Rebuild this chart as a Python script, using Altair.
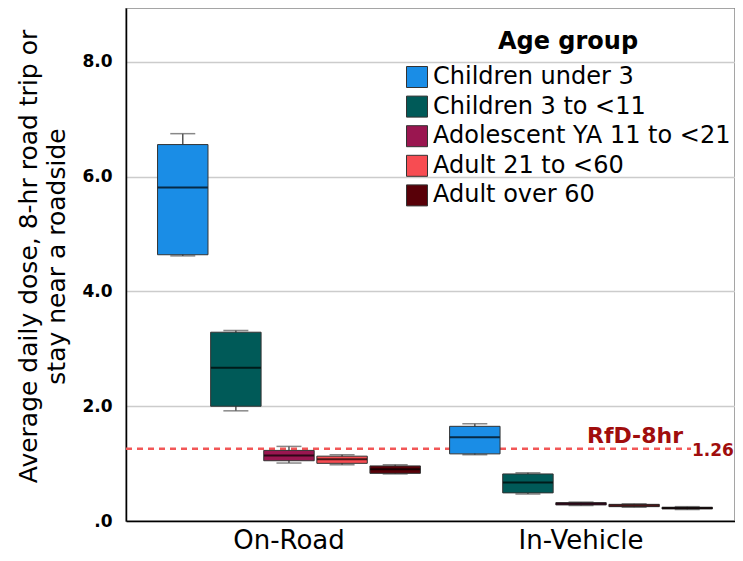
import altair as alt
import pandas as pd

contexts = ["On-Road"] * 5 + ["In-Vehicle"] * 5
groups = ["Children under 3", "Children 3 to <11", "Adolescent YA 11 to <21",
          "Adult 21 to <60", "Adult over 60"] * 2
lower = [4.62, 1.92, 1.01, 0.98, 0.82, 1.155, 0.47, 0.27, 0.24, 0.20]
q1 = [4.64, 2.00, 1.05, 1.005, 0.83, 1.17, 0.49, 0.28, 0.25, 0.21]
median = [5.81, 2.67, 1.14, 1.075, 0.90, 1.46, 0.67, 0.30, 0.27, 0.225]
q3 = [6.56, 3.29, 1.23, 1.13, 0.96, 1.65, 0.82, 0.32, 0.29, 0.24]
upper = [6.75, 3.32, 1.30, 1.155, 0.98, 1.695, 0.84, 0.33, 0.30, 0.25]

group_order = ["Children under 3", "Children 3 to <11", "Adolescent YA 11 to <21",
               "Adult 21 to <60", "Adult over 60"]
group_colors = ["#1a8de6", "#005a58", "#9a1650", "#f74c52", "#580008"]
context_order = ["On-Road", "In-Vehicle"]

rfd_value = [1.26]
rfd_label = ["RfD-8hr"]

df = pd.DataFrame({"context": contexts, "group": groups, "lower": lower, "q1": q1,
                   "median": median, "q3": q3, "upper": upper})
rfd = pd.DataFrame({"y": rfd_value, "label": rfd_label,
                    "val": [f"{v:.2f}" for v in rfd_value]})

W, H = 609, 513
ydom = [0, 8.94]
FONT = "DejaVu Sans"

x_enc = alt.X("context:N", sort=context_order,
              scale=alt.Scale(domain=context_order, range=[0, 618],
                              paddingInner=0.1, paddingOuter=0.108),
              axis=alt.Axis(title=None, labelAngle=0, ticks=False, domainColor="black",
                            domainWidth=1.5, labelFontSize=26, labelColor="black",
                            labelPadding=6, labelFont=FONT, grid=False))
xo_enc = alt.XOffset("group:N", sort=group_order,
                     scale=alt.Scale(domain=group_order, paddingInner=0.05, paddingOuter=0))

y_axis = alt.Axis(values=[0, 2, 4, 6, 8], grid=True, gridColor="#cccccc", gridWidth=1.5,
                  ticks=False, domainColor="black", domainWidth=1.5,
                  labelExpr="datum.value == 0 ? '.0' : format(datum.value, '.1f')",
                  labelFontSize=17, labelFontWeight="bold", labelColor="black",
                  labelPadding=14, labelFont=FONT,
                  title=["Average daily dose, 8-hr road trip or", "stay near a roadside"],
                  titleFontSize=25, titleFontWeight="normal", titleColor="black",
                  titleFont=FONT, titleLineHeight=28, titleAngle=270,
                  titleX=-85, titleY=248, titleAlign="center", titleBaseline="bottom")
y_scale = alt.Scale(domain=ydom, nice=False)

base = alt.Chart(df)

rule = alt.Chart(rfd).mark_rule(color="#f25757", strokeWidth=2.5, strokeDash=[6, 5]).encode(
    y=alt.Y("y:Q", scale=y_scale, axis=y_axis),
    x=alt.value(0), x2=alt.value(565))

whisker = base.mark_bar(size=1.5, color="#555555").encode(
    x=x_enc, xOffset=xo_enc,
    y=alt.Y("lower:Q", scale=y_scale, axis=y_axis), y2="upper:Q")

cap_hi = base.mark_tick(size=25, thickness=1.5, color="#555555").encode(
    x=x_enc, xOffset=xo_enc, y=alt.Y("upper:Q", scale=y_scale))
cap_lo = base.mark_tick(size=25, thickness=1.5, color="#555555").encode(
    x=x_enc, xOffset=xo_enc, y=alt.Y("lower:Q", scale=y_scale))

box = base.mark_bar(stroke="#333333", strokeWidth=1, opacity=1).encode(
    x=x_enc, xOffset=xo_enc,
    y=alt.Y("q1:Q", scale=y_scale), y2="q3:Q",
    color=alt.Color("group:N", sort=group_order,
                    scale=alt.Scale(domain=group_order, range=group_colors),
                    legend=alt.Legend(title="Age group", orient="none", legendX=279, legendY=22,
                                      titleFontSize=24, titleFontWeight="bold",
                                      titleFont=FONT, titleColor="black",
                                      titleAnchor="middle", titlePadding=11,
                                      labelFontSize=24, labelFont=FONT,
                                      labelColor="black", labelLimit=400, labelOffset=4,
                                      symbolType="square", symbolSize=441,
                                      symbolStrokeColor="#333333", symbolStrokeWidth=1,
                                      symbolOpacity=1, rowPadding=3.6)))

med = base.mark_tick(size=50, thickness=2, color="black").encode(
    x=x_enc, xOffset=xo_enc, y=alt.Y("median:Q", scale=y_scale))

rfd_text = alt.Chart(rfd).mark_text(font=FONT, fontSize=22, fontWeight="bold",
                                    color="#a00d0d", align="center", baseline="alphabetic",
                                    dy=-6).encode(
    y=alt.Y("y:Q", scale=y_scale), x=alt.value(509), text="label:N")
rfd_val = alt.Chart(rfd).mark_text(font=FONT, fontSize=17, fontWeight="bold",
                                   color="#a00d0d", align="left", baseline="alphabetic",
                                   dy=7).encode(
    y=alt.Y("y:Q", scale=y_scale), x=alt.value(566), text="val:N")

chart = alt.layer(rule, whisker, cap_hi, cap_lo, box, med, rfd_text, rfd_val).properties(
    width=W, height=H,
    autosize=alt.AutoSizeParams(type="none"),
    padding={"left": 118, "top": 0, "right": 0, "bottom": 32}
).configure_view(stroke="#888888", strokeWidth=1.5)

chart.save("out.html", embed_options={"renderer": "svg", "actions": False})
